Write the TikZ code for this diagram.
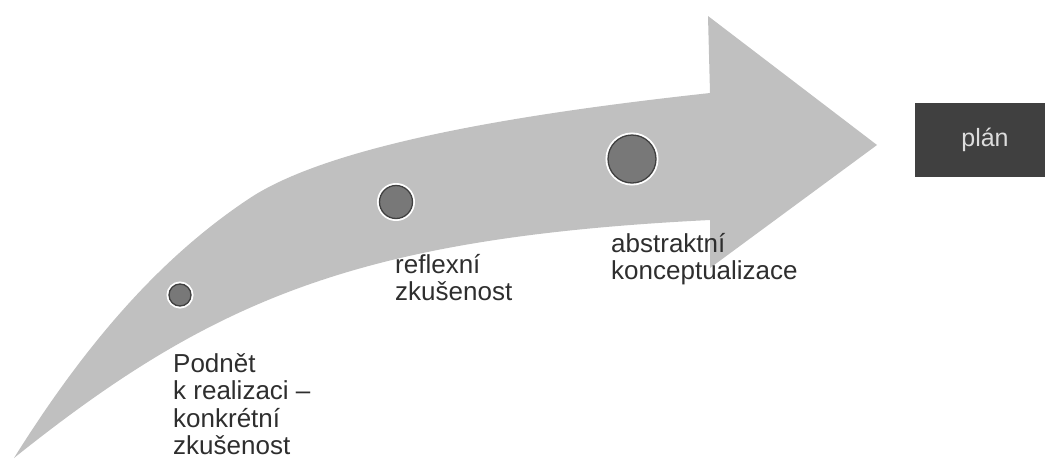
\documentclass[tikz,border=0pt]{standalone}
\usepackage{fontspec}
\setmainfont{Liberation Sans}
\definecolor{arrowgray}{HTML}{C0C0C0}
\definecolor{dotfill}{HTML}{787878}
\definecolor{dotedge}{HTML}{404040}
\definecolor{labelgray}{HTML}{2E2E2E}
\definecolor{boxgray}{HTML}{404040}
\definecolor{boxtext}{HTML}{DDDDDD}
\tikzset{
  stage/.style={circle, inner sep=0pt, fill=dotfill, draw=dotedge, line width=1.3pt,
    preaction={draw=white, line width=5pt}},
  % base anchor of a multi-line node sits on its last line
  stagelabel/.style={anchor=base west, inner sep=0pt, align=left, text=labelgray,
    font=\fontsize{26}{27.5}\selectfont},
  goalbox/.style={fill=boxgray, text=boxtext, inner sep=0pt,
    minimum width=140pt, minimum height=74pt, font=\fontsize{25}{27.5}\selectfont}
}
\begin{document}
\begin{tikzpicture}[x=1pt, y=-1pt]
\useasboundingbox (0,0) rectangle (1045,461);

% curved arrow: upper edge, head, lower edge back to the tail
\fill[arrowgray] (14,458)
  .. controls (94,330) and (170,251) .. (250,198)
  .. controls (340,139) and (560,109.5) .. (710,93)
  -- (708,16) -- (877,145) -- (710,268) -- (710,220)
  .. controls (360,237.5) and (214,298) .. (14,458)
  -- cycle;

% stages along the arrow
\node[stage, minimum size=22pt] (s1) at (180,295) {};
\node[stage, minimum size=33pt] (s2) at (396,202) {};
\node[stage, minimum size=48pt] (s3) at (632,159) {};

% stage labels
\node[stagelabel] (l1) at (173,454.5) {Podnět\\k realizaci –\\konkrétní\\zkušenost};
\node[stagelabel] (l2) at (395,300.5) {reflexní\\zkušenost};
\node[stagelabel] (l3) at (611,279.5) {abstraktní\\konceptualizace};

% goal box, running off the right edge
\node[goalbox] (plan) at (985,140) {plán};
\end{tikzpicture}
\end{document}
